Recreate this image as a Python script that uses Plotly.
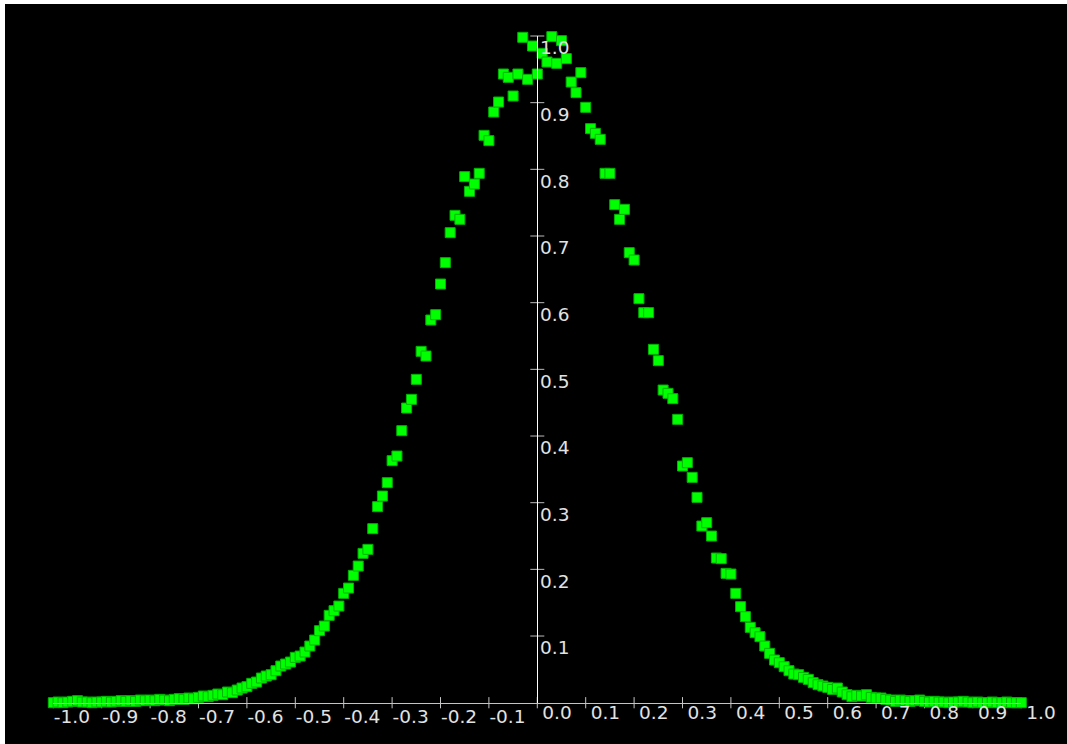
import plotly.graph_objects as go

# ---- data ----
x_values = [
    -1.00, -0.99, -0.98, -0.97, -0.96, -0.95, -0.94, -0.93, -0.92, -0.91,
    -0.90, -0.89, -0.88, -0.87, -0.86, -0.85, -0.84, -0.83, -0.82, -0.81,
    -0.80, -0.79, -0.78, -0.77, -0.76, -0.75, -0.74, -0.73, -0.72, -0.71,
    -0.70, -0.69, -0.68, -0.67, -0.66, -0.65, -0.64, -0.63, -0.62, -0.61,
    -0.60, -0.59, -0.58, -0.57, -0.56, -0.55, -0.54, -0.53, -0.52, -0.51,
    -0.50, -0.49, -0.48, -0.47, -0.46, -0.45, -0.44, -0.43, -0.42, -0.41,
    -0.40, -0.39, -0.38, -0.37, -0.36, -0.35, -0.34, -0.33, -0.32, -0.31,
    -0.30, -0.29, -0.28, -0.27, -0.26, -0.25, -0.24, -0.23, -0.22, -0.21,
    -0.20, -0.19, -0.18, -0.17, -0.16, -0.15, -0.14, -0.13, -0.12, -0.11,
    -0.10, -0.09, -0.08, -0.07, -0.06, -0.05, -0.04, -0.03, -0.02, -0.01,
    0.00, 0.01, 0.02, 0.03, 0.04, 0.05, 0.06, 0.07, 0.08, 0.09,
    0.10, 0.11, 0.12, 0.13, 0.14, 0.15, 0.16, 0.17, 0.18, 0.19,
    0.20, 0.21, 0.22, 0.23, 0.24, 0.25, 0.26, 0.27, 0.28, 0.29,
    0.30, 0.31, 0.32, 0.33, 0.34, 0.35, 0.36, 0.37, 0.38, 0.39,
    0.40, 0.41, 0.42, 0.43, 0.44, 0.45, 0.46, 0.47, 0.48, 0.49,
    0.50, 0.51, 0.52, 0.53, 0.54, 0.55, 0.56, 0.57, 0.58, 0.59,
    0.60, 0.61, 0.62, 0.63, 0.64, 0.65, 0.66, 0.67, 0.68, 0.69,
    0.70, 0.71, 0.72, 0.73, 0.74, 0.75, 0.76, 0.77, 0.78, 0.79,
    0.80, 0.81, 0.82, 0.83, 0.84, 0.85, 0.86, 0.87, 0.88, 0.89,
    0.90, 0.91, 0.92, 0.93, 0.94, 0.95, 0.96, 0.97, 0.98, 0.99, 1.00,
]

y_values = [
    0.000, 0.001, 0.000, 0.001, 0.002, 0.003, 0.001, 0.001, 0.000, 0.001,
    0.001, 0.002, 0.001, 0.002, 0.003, 0.002, 0.003, 0.002, 0.004, 0.003,
    0.004, 0.003, 0.005, 0.004, 0.003, 0.005, 0.006, 0.005, 0.007, 0.006,
    0.008, 0.010, 0.009, 0.011, 0.013, 0.012, 0.016, 0.015, 0.019, 0.022,
    0.024, 0.029, 0.031, 0.037, 0.040, 0.042, 0.048, 0.055, 0.058, 0.061,
    0.068, 0.070, 0.076, 0.085, 0.094, 0.108, 0.115, 0.131, 0.138, 0.145,
    0.164, 0.172, 0.191, 0.205, 0.224, 0.230, 0.261, 0.294, 0.310, 0.330,
    0.363, 0.370, 0.408, 0.442, 0.455, 0.485, 0.527, 0.520, 0.574, 0.582,
    0.628, 0.660, 0.705, 0.731, 0.725, 0.789, 0.767, 0.778, 0.794, 0.851,
    0.843, 0.886, 0.901, 0.943, 0.938, 0.910, 0.943, 0.998, 0.935, 0.985,
    0.943, 0.974, 0.961, 0.999, 0.959, 0.993, 0.966, 0.931, 0.915, 0.945,
    0.893, 0.861, 0.854, 0.845, 0.794, 0.794, 0.747, 0.725, 0.740, 0.675,
    0.664, 0.606, 0.585, 0.585, 0.530, 0.513, 0.469, 0.464, 0.456, 0.425,
    0.355, 0.360, 0.338, 0.308, 0.265, 0.270, 0.250, 0.217, 0.216, 0.194,
    0.193, 0.164, 0.144, 0.129, 0.113, 0.105, 0.099, 0.085, 0.074, 0.064,
    0.060, 0.054, 0.048, 0.043, 0.042, 0.038, 0.035, 0.030, 0.027, 0.025,
    0.023, 0.020, 0.022, 0.016, 0.012, 0.009, 0.011, 0.010, 0.012, 0.008,
    0.007, 0.007, 0.005, 0.004, 0.002, 0.004, 0.003, 0.002, 0.003, 0.004,
    0.002, 0.001, 0.002, 0.001, 0.001, 0.000, 0.001, 0.001, 0.002, 0.001,
    0.000, 0.001, 0.000, 0.000, 0.001, 0.000, 0.000, 0.001, 0.000, 0.000, 0.000,
]

# x ticks: negative and non-negative labels are laid out with different offsets
x_neg_tick_values = [-1.0, -0.9, -0.8, -0.7, -0.6, -0.5, -0.4, -0.3, -0.2, -0.1]
x_neg_tick_labels = ["-1.0", "-0.9", "-0.8", "-0.7", "-0.6", "-0.5", "-0.4", "-0.3",
                     "-0.2", "-0.1"]
x_pos_tick_values = [0.0, 0.1, 0.2, 0.3, 0.4, 0.5, 0.6, 0.7, 0.8, 0.9, 1.0]
x_pos_tick_labels = ["0.0", "0.1", "0.2", "0.3", "0.4", "0.5", "0.6", "0.7", "0.8",
                     "0.9", "1.0"]
y_tick_values = [0.1, 0.2, 0.3, 0.4, 0.5, 0.6, 0.7, 0.8, 0.9, 1.0]
y_tick_labels = ["0.1", "0.2", "0.3", "0.4", "0.5", "0.6", "0.7", "0.8", "0.9", "1.0"]

# ---- styling ----
W, H = 1067, 744
FONT = "DejaVu Sans"
FONT_SIZE = 18.5
LABEL_COLOR = "#e2e2e2"
XAXIS_COLOR = "#c4c4c4"
YAXIS_COLOR = "#ffffff"
TICK_FONT = dict(family=FONT, size=FONT_SIZE, color=LABEL_COLOR)

fig = go.Figure()

# tick marks crossing the axes
fig.add_trace(go.Scatter(
    x=x_neg_tick_values + x_pos_tick_values,
    y=[0] * (len(x_neg_tick_values) + len(x_pos_tick_values)), mode="markers",
    marker=dict(symbol="line-ns", size=8, line=dict(color=XAXIS_COLOR, width=1)),
    hoverinfo="skip", showlegend=False, cliponaxis=False,
))
fig.add_trace(go.Scatter(
    x=[0] * len(y_tick_values), y=y_tick_values, mode="markers",
    marker=dict(symbol="line-ew", size=10, line=dict(color="#bbbbbb", width=1)),
    hoverinfo="skip", showlegend=False, cliponaxis=False,
))

# data points
fig.add_trace(go.Scatter(
    x=x_values, y=y_values, mode="markers",
    marker=dict(symbol="square", size=10, color="#00ff00",
                line=dict(color="#00b400", width=1)),
    showlegend=False, cliponaxis=False,
))

# invisible carrier for the second (label-only) x axis
fig.add_trace(go.Scatter(
    x=x_pos_tick_values, y=[0] * len(x_pos_tick_values), xaxis="x2", mode="markers",
    marker=dict(size=1, opacity=0), hoverinfo="skip", showlegend=False,
))

x_dom = [53.3 / W, 1021.3 / W]
y_dom = [(H - 702.7) / H, (H - 36.0) / H]

fig.update_layout(
    width=W, height=H, autosize=False,
    margin=dict(l=0, r=0, t=0, b=0, pad=0, autoexpand=False),
    paper_bgcolor="black", plot_bgcolor="black",
    font=dict(family=FONT, size=FONT_SIZE, color=LABEL_COLOR),
    xaxis=dict(
        domain=x_dom, range=[-1.0, 1.0], anchor="y", automargin=False,
        showgrid=False, zeroline=False, showline=True, linecolor=XAXIS_COLOR, linewidth=1,
        ticks="", tickvals=x_neg_tick_values, ticktext=x_neg_tick_labels,
        ticklabelposition="outside right", ticklabelstandoff=-3, ticklabelshift=0,
        tickfont=TICK_FONT,
    ),
    xaxis2=dict(
        domain=x_dom, range=[-1.0, 1.0], anchor="y", overlaying="x", automargin=False,
        showgrid=False, zeroline=False, showline=False,
        ticks="", tickvals=x_pos_tick_values, ticktext=x_pos_tick_labels,
        ticklabelposition="outside right", ticklabelstandoff=-3, ticklabelshift=5,
        tickfont=TICK_FONT,
    ),
    yaxis=dict(
        domain=y_dom, range=[0.0, 1.0], anchor="free", position=537.3 / W, side="right",
        automargin=False, autoshift=False,
        showgrid=False, zeroline=False, showline=True, linecolor=YAXIS_COLOR, linewidth=1,
        ticks="", tickvals=y_tick_values, ticktext=y_tick_labels,
        ticklabelposition="outside bottom", ticklabelstandoff=-2, ticklabelshift=-1,
        tickfont=TICK_FONT,
    ),
    shapes=[
        dict(type="rect", xref="paper", yref="paper", x0=0, x1=5 / W, y0=0, y1=1,
             fillcolor="white", line=dict(width=0), layer="above"),
        dict(type="rect", xref="paper", yref="paper", x0=0, x1=1, y0=1 - 4 / H, y1=1,
             fillcolor="white", line=dict(width=0), layer="above"),
    ],
)

fig.write_html(
    "out.html",
    config={"displayModeBar": False},
    post_script="document.body.style.margin='0';document.body.style.overflow='hidden';",
)
